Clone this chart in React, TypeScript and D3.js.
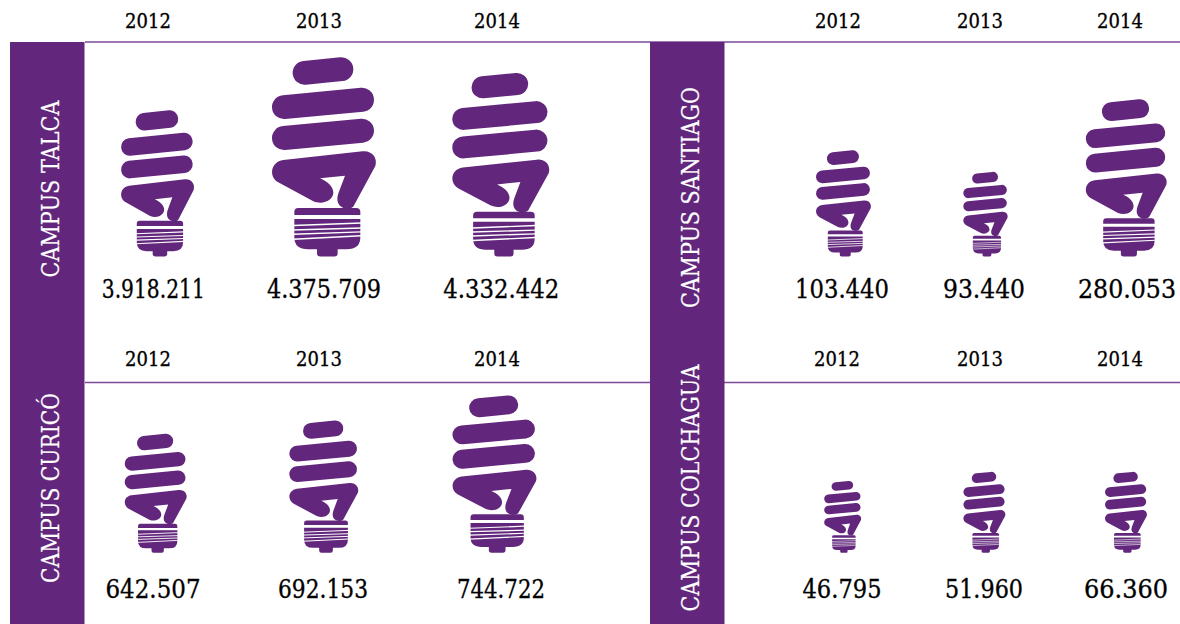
import React from "react";
import * as d3 from "d3";

// ---- data ----
const years = ["2012", "2013", "2014"];
const talcaValues = [3918211, 4375709, 4332442];
const santiagoValues = [103440, 93440, 280053];
const curicoValues = [642507, 692153, 744722];
const colchaguaValues = [46795, 51960, 66360];

const WIDTH = 1180;
const HEIGHT = 624;
const PURPLE = "#62277c";
const LINE = "#7d4a96";
const SERIF = "'DejaVu Serif Condensed','DejaVu Serif',serif";
const fmt = d3.formatLocale({ decimal: ",", thousands: ".", grouping: [3], currency: ["$", ""] }).format(",d");

// ---- layout of each panel ----
const panels = [
  { name: "CAMPUS TALCA", values: talcaValues, barX: 10, labelY: 189, labelLen: 177, yearX: [148, 319, 497], bulbX: [157.6, 324, 500.8], valueX: [153.3, 324, 501.3], heights: [146, 199, 183.3], widths: [73, 104, 97], valueLen: [103, 114, 116], bulbBottom: 256.5, valueY: 298, yearY: 28 },
  { name: "CAMPUS SANTIAGO", values: santiagoValues, barX: 650, labelY: 197.5, labelLen: 221, yearX: [838, 980, 1120], bulbX: [843.5, 985.5, 1126.3], valueX: [842, 984, 1127], heights: [106, 84.5, 157], widths: [55, 44.4, 81], valueLen: [94, 82, 98], bulbBottom: 256.5, valueY: 298, yearY: 28 },
  { name: "CAMPUS CURICÓ", values: curicoValues, barX: 10, labelY: 488, labelLen: 190, yearX: [148, 319, 497], bulbX: [155.7, 323.8, 494.5], valueX: [153, 323, 501], heights: [118.7, 132, 157], widths: [62, 69, 84], valueLen: [95, 90, 88], bulbBottom: 552.7, valueY: 597.7, yearY: 366 },
  { name: "CAMPUS COLCHAGUA", values: colchaguaValues, barX: 650, labelY: 488, labelLen: 247, yearX: [837, 980, 1120], bulbX: [842.7, 984.4, 1126], valueX: [842, 984, 1126], heights: [71.7, 80.7, 80.7], widths: [37, 42, 42], valueLen: [79, 78, 84], bulbBottom: 552.7, valueY: 597.7, yearY: 366 },
];

// ---- bulb glyph, in its own unit box ----
const GLYPH_CX = 222;
const GLYPH_BOTTOM = 650;
const GLYPH_H = 598;
const GLYPH_W = 312;
const coil =
  "M100 360 L338 334 C364 331 384 352 376 378 L311 498 C306 506 292 508 280 504 C262 498 258 478 266 458 L285 407 L210 415 C232 424 250 440 250 458 C250 482 218 496 190 484 L86 428 C56 412 60 366 100 360 Z";
const cap = "M145 504 L319 504 Q331 504 331 516 L331 525 L133 525 L133 516 Q133 504 145 504 Z";
const base =
  "M133 537 L331 537 L331 592 Q331 628 290 628 L263 628 L263 640 Q263 650 253 650 L211 650 Q201 650 201 640 L201 628 L174 628 Q133 628 133 592 Z";
const tubes: [number, number, number, number, number][] = [
  [164, 98, 274, 87, 72],
  [102, 201, 336, 179, 72],
  [102, 294, 336, 272, 72],
];
const threads: [number, number][] = [
  [557, 549],
  [570, 564],
  [583, 576],
  [598, 588],
];

function Bulb({ x, bottom, height, width }: { x: number; bottom: number; height: number; width: number }) {
  return (
    <g
      transform={`translate(${x},${bottom}) scale(${width / GLYPH_W},${height / GLYPH_H}) translate(${-GLYPH_CX},${-GLYPH_BOTTOM})`}
      fill={PURPLE}
    >
      {tubes.map((t, i) => (
        <line key={i} x1={t[0]} y1={t[1]} x2={t[2]} y2={t[3]} stroke={PURPLE} strokeWidth={t[4]} strokeLinecap="round" />
      ))}
      <path d={coil} />
      <path d={cap} />
      <path d={base} />
      {threads.map((t, i) => (
        <line key={i} x1={130} y1={t[0]} x2={334} y2={t[1]} stroke="#fff" strokeWidth={4.5} />
      ))}
    </g>
  );
}

function Panel({ p }: { p: (typeof panels)[number] }) {
  const yearPos = d3.scaleOrdinal<string, number>(years, p.yearX);
  const bulbPos = d3.scaleOrdinal<string, number>(years, p.bulbX);
  const valuePos = d3.scaleOrdinal<string, number>(years, p.valueX);
  const sizeH = d3.scaleOrdinal<number, number>(p.values, p.heights);
  const sizeW = d3.scaleOrdinal<number, number>(p.values, p.widths);
  return (
    <g>
      {years.map((y, i) => (
        <g key={y}>
          <text x={yearPos(y)} y={p.yearY} textAnchor="middle" fontSize={20} fill="#000" stroke="#000" strokeWidth={0.3} fontFamily={SERIF}>
            {y}
          </text>
          <Bulb x={bulbPos(y)} bottom={p.bulbBottom} height={sizeH(p.values[i])} width={sizeW(p.values[i])} />
          <text
            x={valuePos(y)}
            y={p.valueY}
            textAnchor="middle"
            fontSize={25.3}
            fill="#000"
            stroke="#000"
            strokeWidth={0.3}
            fontFamily={SERIF}
            textLength={p.valueLen[i]}
            lengthAdjust="spacingAndGlyphs"
          >
            {fmt(p.values[i])}
          </text>
        </g>
      ))}
    </g>
  );
}

export default function App() {
  return (
    <svg
      width={WIDTH}
      height={HEIGHT}
      viewBox={`0 0 ${WIDTH} ${HEIGHT}`}
      style={{ position: "fixed", left: 0, top: 0, display: "block", background: "#fff" }}
    >
      <line x1={85} x2={WIDTH} y1={42} y2={42} stroke={LINE} strokeWidth={1.5} />
      <line x1={85} x2={WIDTH} y1={382.5} y2={382.5} stroke={LINE} strokeWidth={1.5} />
      {[10, 650].map((x) => (
        <rect key={x} x={x} y={42} width={74.5} height={HEIGHT - 42} fill={PURPLE} />
      ))}
      {panels.map((p) => (
        <g key={p.name}>
          <text
            transform={`translate(${p.barX + 48.5},${p.labelY}) rotate(-90)`}
            textAnchor="middle"
            fontSize={24.5}
            fill="#fff"
            stroke="#fff"
            strokeWidth={0.2}
            fontFamily={SERIF}
            textLength={p.labelLen}
            lengthAdjust="spacingAndGlyphs"
          >
            {p.name}
          </text>
          <Panel p={p} />
        </g>
      ))}
    </svg>
  );
}
